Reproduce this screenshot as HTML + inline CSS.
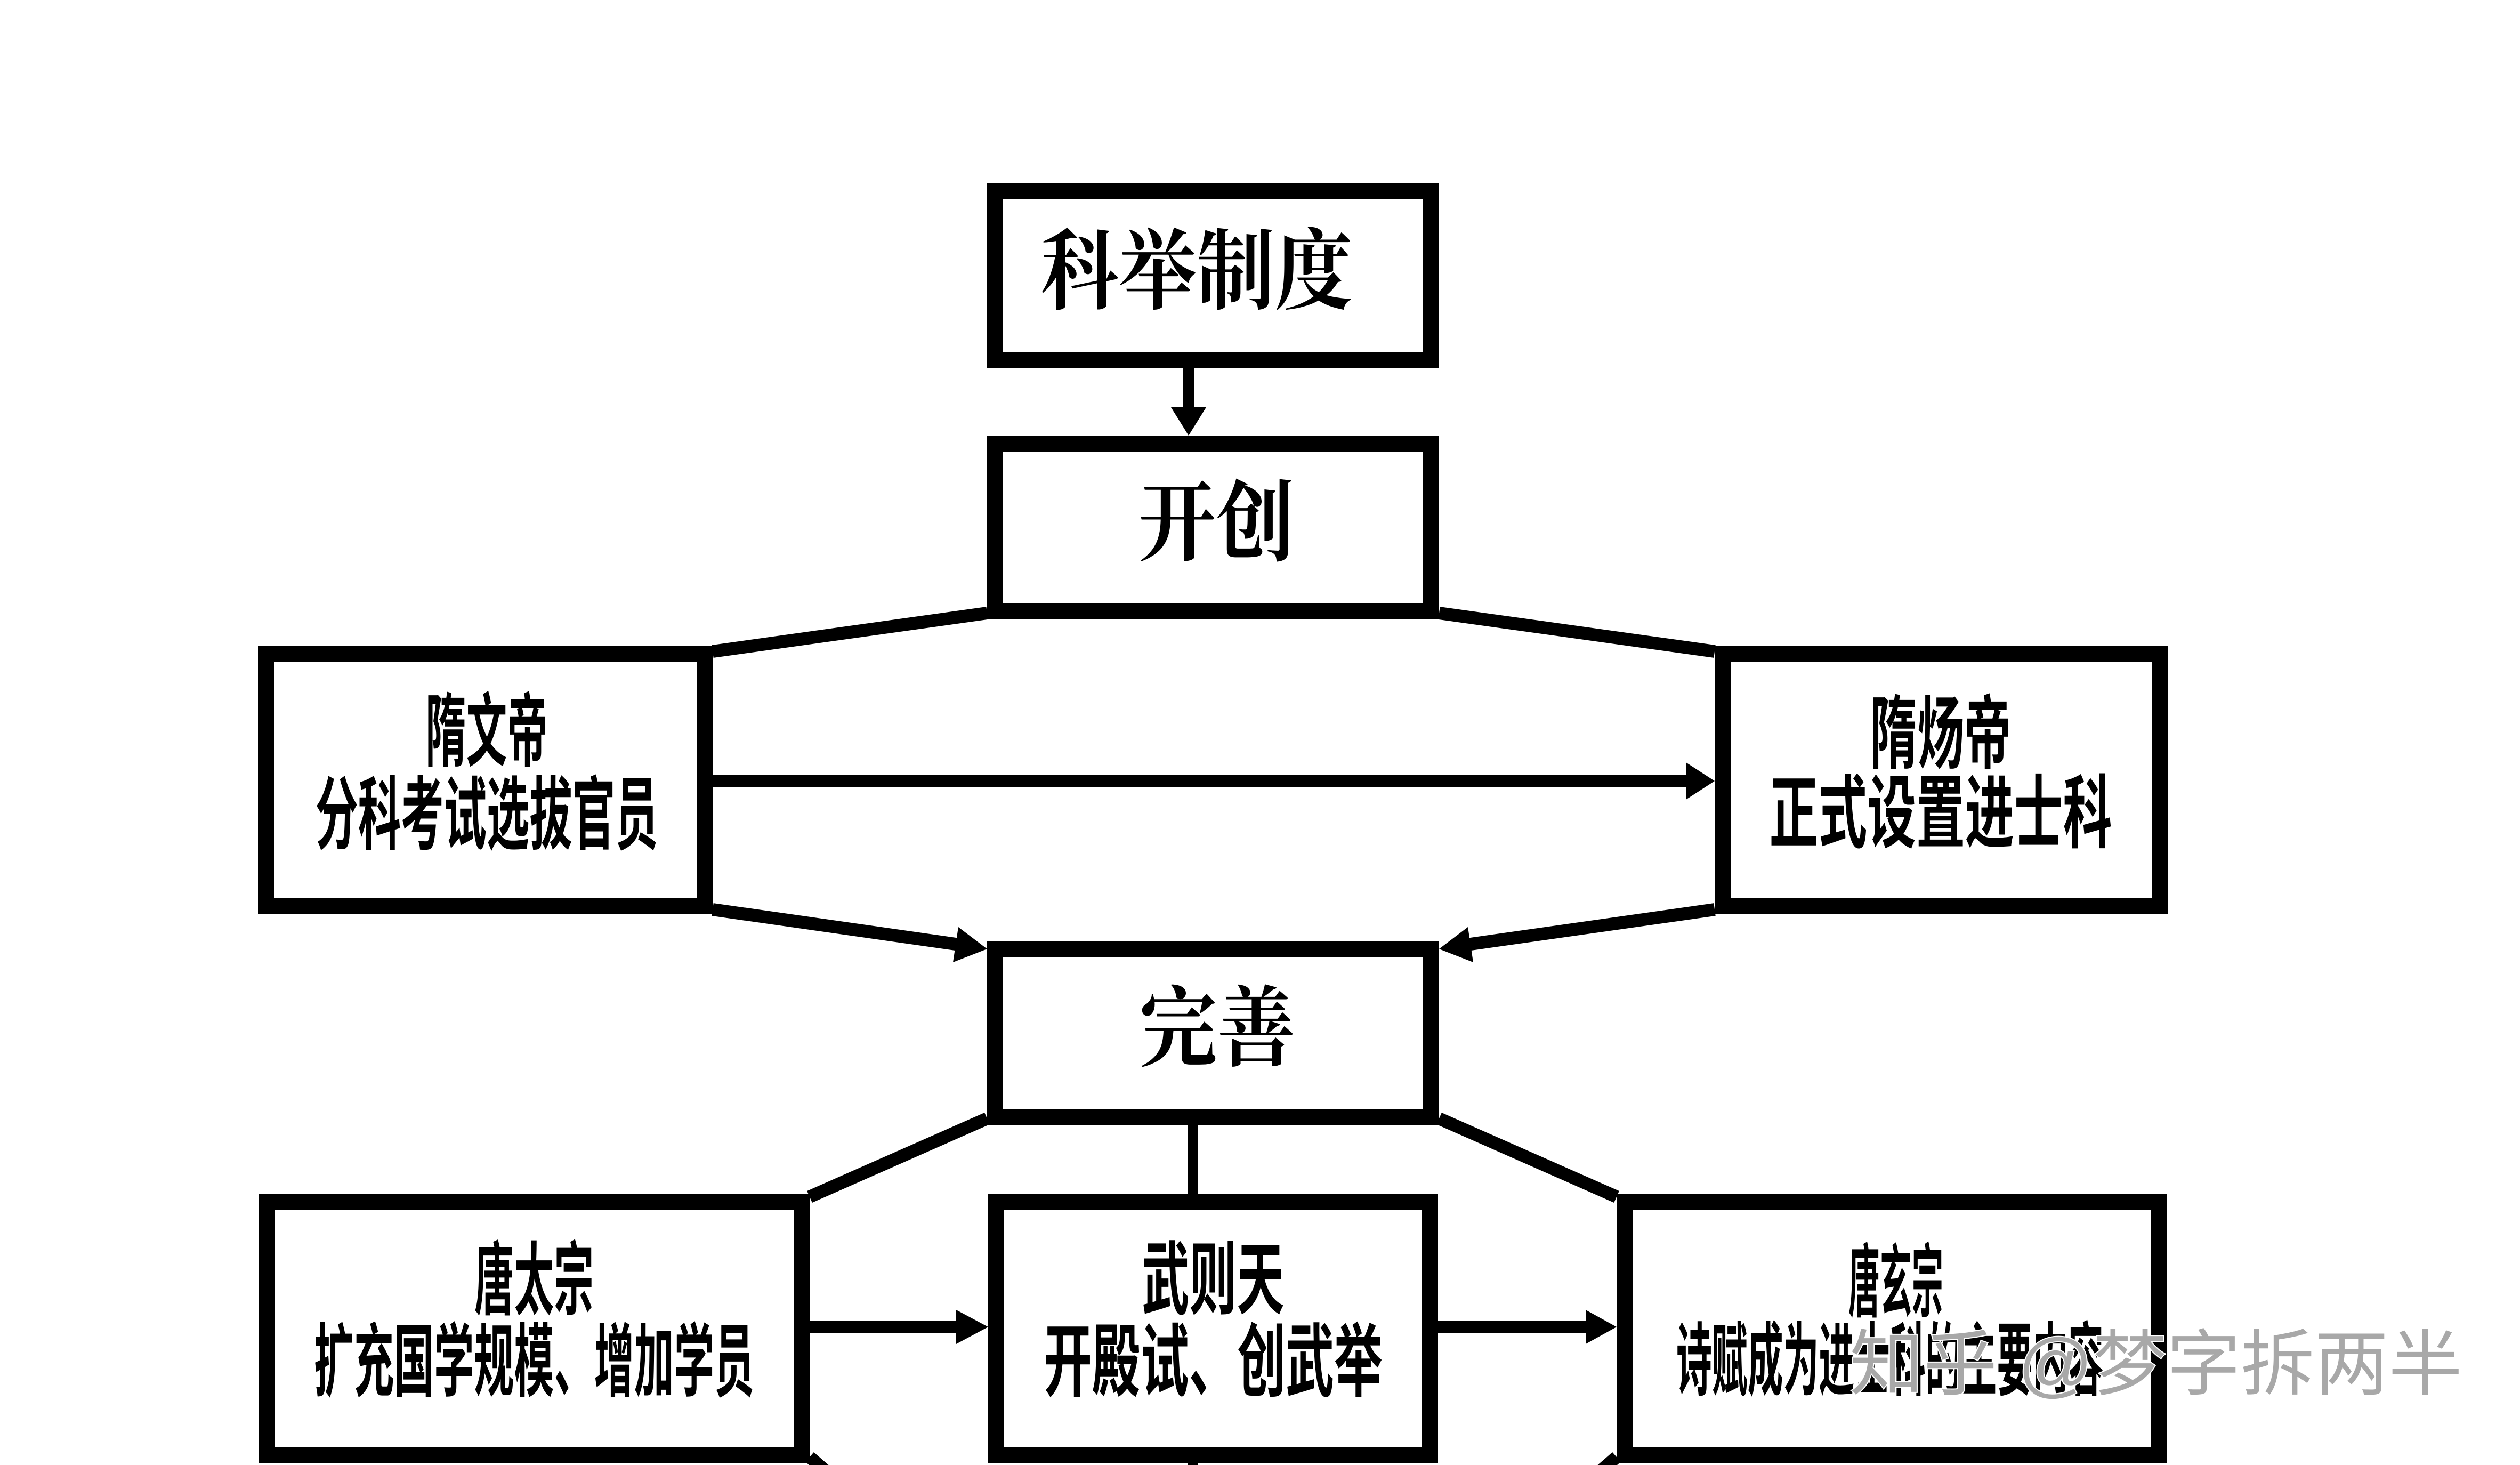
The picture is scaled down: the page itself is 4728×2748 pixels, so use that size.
<!DOCTYPE html>
<html><head><meta charset="utf-8"><style>
html,body{margin:0;padding:0;background:#fff;}
svg{display:block;}
.t{font-family:"Liberation Sans","Noto Sans CJK SC",sans-serif;font-weight:bold;fill:#000;}
.s{font-family:"Liberation Serif","Noto Serif CJK SC","Noto Sans CJK SC",serif;font-weight:bold;fill:#000;}
</style></head><body>
<svg width="4728" height="2748" viewBox="0 0 4728 2748" xmlns="http://www.w3.org/2000/svg">
<rect width="4728" height="2748" fill="#fff"/>
<g fill="none" stroke="#000" stroke-width="30">
<rect x="1867" y="358" width="818" height="317"/>
<rect x="1867" y="832" width="818" height="314"/>
<rect x="499" y="1227" width="823" height="473"/>
<rect x="3232" y="1227" width="820" height="473"/>
<rect x="1867" y="1780" width="818" height="315"/>
<rect x="501" y="2254" width="1003" height="476"/>
<rect x="1869" y="2254" width="814" height="476"/>
<rect x="3048" y="2254" width="1003" height="476"/>
</g>
<g stroke="#000" stroke-width="24" fill="none" stroke-linecap="butt">
<line x1="2230" y1="690" x2="2230" y2="770" stroke-width="22"/>
<line x1="1852" y1="1150" x2="1337" y2="1222"/>
<line x1="2700" y1="1150" x2="3217" y2="1222"/>
<line x1="1337" y1="1465" x2="3165" y2="1465" stroke-width="23"/>
<line x1="1337" y1="1706" x2="1800" y2="1772"/>
<line x1="3217" y1="1706" x2="2752" y2="1772"/>
<line x1="1852" y1="2098" x2="1519" y2="2245"/>
<line x1="2700" y1="2098" x2="3033" y2="2245"/>
<line x1="2238" y1="2110" x2="2238" y2="2239" stroke-width="20"/>
<line x1="1519" y1="2489" x2="1800" y2="2489" stroke-width="22"/>
<line x1="2698" y1="2489" x2="2980" y2="2489" stroke-width="22"/>
<line x1="1519" y1="2733" x2="1550" y2="2760"/>
<line x1="3033" y1="2733" x2="3002" y2="2760"/>
<line x1="2238" y1="2745" x2="2238" y2="2748" stroke-width="20"/>
</g>
<g fill="#000">
<polygon points="2197,764 2263,764 2230,817"/>
<polygon points="3163,1430 3163,1500 3217,1465"/>
<polygon points="1788,1805 1798,1739 1852,1780"/>
<polygon points="2764,1805 2754,1739 2700,1780"/>
<polygon points="1794,2457 1794,2521 1854,2489"/>
<polygon points="2975,2457 2975,2521 3033,2489"/>
</g>
<g dominant-baseline="central" text-anchor="middle">
<text class="s" x="2245" y="511" font-size="165" textLength="585" lengthAdjust="spacingAndGlyphs">科举制度</text>
<text class="s" x="2282" y="983" font-size="165" textLength="293" lengthAdjust="spacingAndGlyphs">开创</text>
<text class="s" x="2284" y="1931" font-size="165" textLength="292" lengthAdjust="spacingAndGlyphs">完善</text>
<text class="t" x="913" y="1373" font-size="150" textLength="230" lengthAdjust="spacingAndGlyphs">隋文帝</text>
<text class="t" x="913" y="1529" font-size="150" textLength="643" lengthAdjust="spacingAndGlyphs">分科考试选拔官员</text>
<text class="t" x="3641" y="1377" font-size="150" textLength="265" lengthAdjust="spacingAndGlyphs">隋炀帝</text>
<text class="t" x="3641" y="1526" font-size="150" textLength="643" lengthAdjust="spacingAndGlyphs">正式设置进士科</text>
<text class="t" x="1002" y="2402" font-size="150" textLength="224" lengthAdjust="spacingAndGlyphs">唐太宗</text>
<text class="t" x="1002" y="2555" font-size="150" textLength="826" lengthAdjust="spacingAndGlyphs">扩充国学规模、增加学员</text>
<text class="t" x="2276" y="2401" font-size="150" textLength="267" lengthAdjust="spacingAndGlyphs">武则天</text>
<text class="t" x="2276" y="2555" font-size="150" textLength="636" lengthAdjust="spacingAndGlyphs">开殿试、创武举</text>
<text class="t" x="3557" y="2406" font-size="150" textLength="178" lengthAdjust="spacingAndGlyphs">唐玄宗</text>
<text class="t" x="3546" y="2553" font-size="150" textLength="802" lengthAdjust="spacingAndGlyphs">诗赋成为进士科的主要内容</text>
<text x="4045" y="2559" font-size="135" textLength="1150" lengthAdjust="spacingAndGlyphs" font-family="Liberation Sans, Noto Sans CJK SC, sans-serif" fill="#a8a8a8" stroke="#fff" stroke-width="4" paint-order="stroke">知乎 @梦字拆两半</text>
</g>
</svg>
</body></html>
